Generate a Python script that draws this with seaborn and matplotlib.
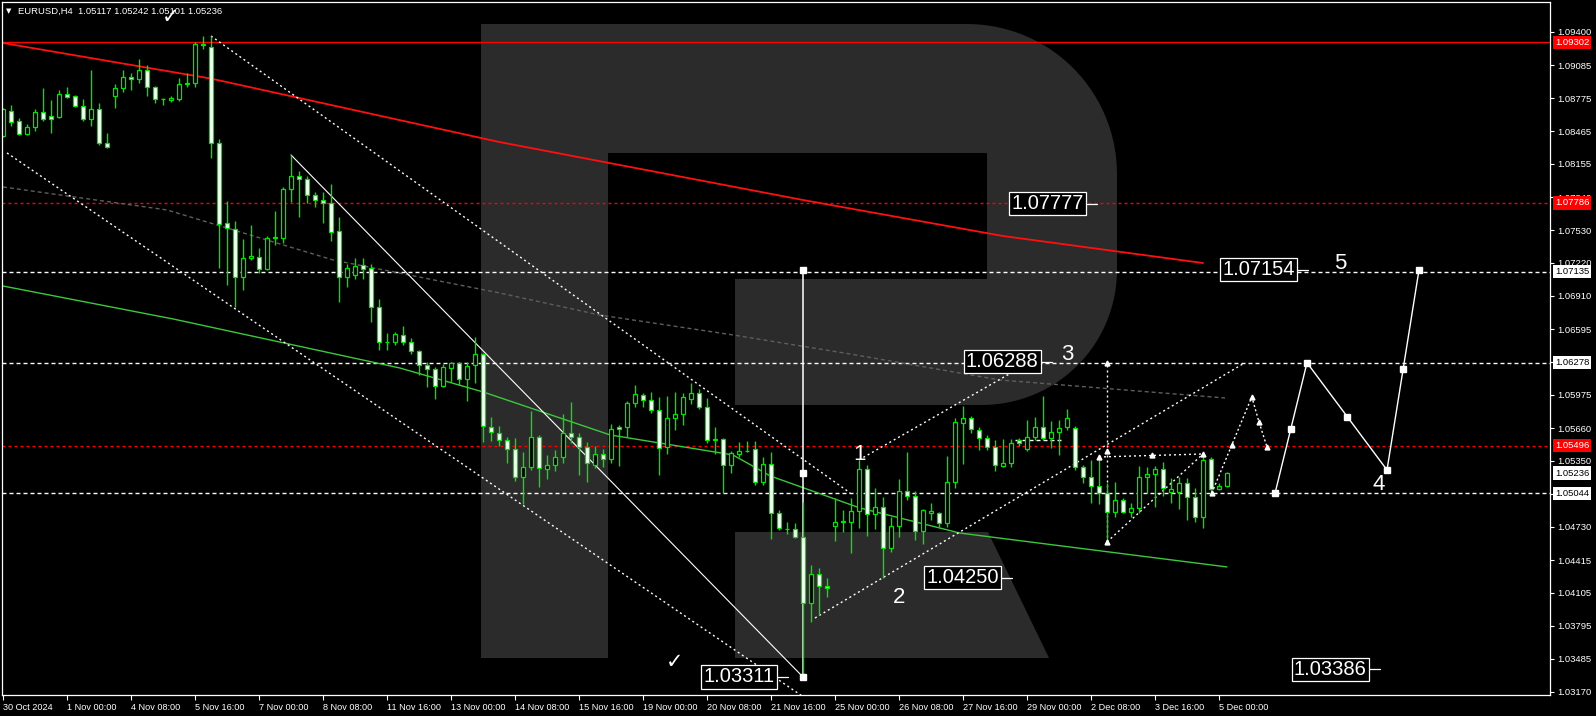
import numpy as np
import pandas as pd
import matplotlib
matplotlib.use("Agg")
import matplotlib.pyplot as plt
import matplotlib.transforms as mtransforms
from matplotlib.patches import Polygon
import seaborn as sns

# ---------------- data ----------------
symbol = "EURUSD,H4"
header_ohlc = ["1.05117", "1.05242", "1.05101", "1.05236"]

opens = [1.08418,1.08654,1.08560,1.08437,1.08503,1.08645,1.08607,1.08598,1.08815,1.08796,
         1.08702,1.08579,1.08673,1.08352,1.08796,1.08871,1.08975,1.08956,1.09041,1.08881,
         1.08768,1.08758,1.08768,1.08909,1.08918,1.09287,1.09258,1.08352,1.07597,1.07540,
         1.07087,1.07267,1.07276,1.07163,1.07455,1.07455,1.07918,1.08041,1.08012,1.07862,
         1.07814,1.07786,1.07521,1.07087,1.07106,1.07201,1.07172,1.06804,1.06474,1.06474,
         1.06540,1.06474,1.06388,1.06256,1.06219,1.06058,1.06228,1.06275,1.06124,1.06256,
         1.06360,1.05671,1.05615,1.05548,1.05463,1.05199,1.05294,1.05577,1.05275,1.05312,
         1.05388,1.05615,1.05577,1.05482,1.05312,1.05416,1.05369,1.05671,1.05671,1.05898,
         1.05973,1.05926,1.05832,1.05482,1.05756,1.05794,1.05936,1.05992,1.05860,1.05548,
         1.05558,1.05312,1.05416,1.05445,1.05463,1.05152,1.05322,1.04859,1.04708,1.04708,
         1.04633,1.04010,1.04283,1.04170,1.04737,1.04775,1.04775,1.04878,1.05275,1.04850,
         1.04916,1.04529,1.04737,1.05067,1.05020,1.04689,1.04859,1.04859,1.04765,1.05152,
         1.05709,1.05756,1.05643,1.05567,1.05482,1.05303,1.05331,1.05548,1.05463,1.05577,
         1.05671,1.05567,1.05624,1.05671,1.05662,1.05294,1.05199,1.05114,1.05048,1.04869,
         1.04982,1.04869,1.04906,1.05199,1.05227,1.05275,1.05057,1.05057,1.05143,1.05010,
         1.04822,1.05369,1.05086,1.05117]
highs = [1.08683,1.08711,1.08588,1.08532,1.08673,1.08871,1.08758,1.08852,1.08881,1.08805,
         1.08768,1.09041,1.08730,1.08447,1.08909,1.09041,1.09013,1.09145,1.09088,1.08890,
         1.08777,1.08796,1.08966,1.09013,1.09302,1.09362,1.09362,1.08390,1.07805,1.07616,
         1.07446,1.07578,1.07361,1.07474,1.07710,1.07937,1.08239,1.08088,1.08041,1.07890,
         1.07890,1.07965,1.07654,1.07210,1.07267,1.07267,1.07210,1.06879,1.06559,1.06568,
         1.06627,1.06511,1.06398,1.06285,1.06237,1.06266,1.06285,1.06285,1.06285,1.06521,
         1.06370,1.05767,1.05681,1.05577,1.05567,1.05435,1.05822,1.05596,1.05407,1.05454,
         1.05794,1.05907,1.05615,1.05530,1.05492,1.05463,1.05700,1.05690,1.05917,1.06068,
         1.05992,1.06002,1.05955,1.05964,1.06002,1.05992,1.06087,1.06030,1.05945,1.05671,
         1.05567,1.05445,1.05530,1.05539,1.05539,1.05388,1.05435,1.04888,1.04774,1.04765,
         1.04963,1.04368,1.04340,1.04246,1.05001,1.04888,1.05001,1.05360,1.05312,1.05095,
         1.05010,1.04822,1.05180,1.05435,1.05067,1.04897,1.04954,1.04869,1.05397,1.05756,
         1.05869,1.05775,1.05671,1.05596,1.05548,1.05558,1.05558,1.05567,1.05737,1.05765,
         1.05964,1.05728,1.05737,1.05841,1.05681,1.05312,1.05360,1.05388,1.05143,1.05152,
         1.05001,1.04954,1.05303,1.05294,1.05303,1.05341,1.05190,1.05199,1.05190,1.05095,
         1.05416,1.05388,1.05143,1.05242]
lows = [1.08409,1.08513,1.08428,1.08428,1.08466,1.08560,1.08447,1.08588,1.08777,1.08692,
        1.08560,1.08513,1.08333,1.08305,1.08683,1.08834,1.08852,1.08918,1.08796,1.08730,
        1.08711,1.08739,1.08749,1.08881,1.08881,1.09239,1.08211,1.07172,1.07012,1.06804,
        1.06964,1.07248,1.07125,1.07154,1.07389,1.07408,1.07795,1.07654,1.07786,1.07748,
        1.07597,1.07427,1.06851,1.06993,1.07068,1.07068,1.06662,1.06398,1.06398,1.06445,
        1.06445,1.06360,1.06162,1.06049,1.05936,1.06049,1.06096,1.06068,1.05917,1.06087,
        1.05530,1.05539,1.05492,1.05331,1.05161,1.04944,1.05265,1.05105,1.05180,1.05256,
        1.05331,1.05520,1.05218,1.05152,1.05284,1.05294,1.05331,1.05303,1.05577,1.05860,
        1.05860,1.05803,1.05218,1.05416,1.05643,1.05690,1.05888,1.05841,1.05520,1.05416,
        1.05048,1.05237,1.05388,1.05435,1.05124,1.05124,1.04614,1.04699,1.04661,1.04623,
        1.03311,1.03830,1.03896,1.04066,1.04595,1.04680,1.04482,1.04718,1.04642,1.04708,
        1.04246,1.04491,1.04633,1.04982,1.04604,1.04567,1.04793,1.04727,1.04727,1.05095,
        1.05322,1.05614,1.05454,1.05454,1.05256,1.05294,1.05294,1.05492,1.05445,1.05548,
        1.05548,1.05473,1.05407,1.05643,1.05265,1.05143,1.04954,1.04944,1.04586,1.04822,
        1.04859,1.04822,1.04859,1.05048,1.04916,1.05020,1.04954,1.04897,1.04793,1.04775,
        1.04718,1.05048,1.05076,1.05101]
closes = [1.08673,1.08550,1.08437,1.08503,1.08645,1.08579,1.08579,1.08815,1.08786,1.08702,
          1.08579,1.08673,1.08352,1.08314,1.08871,1.08975,1.08956,1.09041,1.08881,1.08768,
          1.08766,1.08777,1.08909,1.08918,1.09290,1.09280,1.08352,1.07588,1.07550,1.07087,
          1.07267,1.07286,1.07163,1.07455,1.07460,1.07918,1.08041,1.08012,1.07862,1.07814,
          1.07786,1.07512,1.07087,1.07172,1.07192,1.07163,1.06804,1.06474,1.06478,1.06549,
          1.06474,1.06388,1.06256,1.06219,1.06058,1.06237,1.06275,1.06124,1.06247,1.06360,
          1.05681,1.05624,1.05548,1.05463,1.05199,1.05294,1.05577,1.05284,1.05312,1.05388,
          1.05615,1.05577,1.05482,1.05331,1.05416,1.05369,1.05652,1.05652,1.05898,1.05983,
          1.05926,1.05832,1.05473,1.05756,1.05794,1.05955,1.05992,1.05860,1.05548,1.05558,
          1.05312,1.05426,1.05445,1.05440,1.05152,1.05322,1.04859,1.04718,1.04710,1.04633,
          1.04010,1.04283,1.04170,1.04151,1.04775,1.04780,1.04878,1.05275,1.04850,1.04916,
          1.04529,1.04737,1.05067,1.05020,1.04689,1.04888,1.04878,1.04765,1.05152,1.05718,
          1.05756,1.05652,1.05567,1.05482,1.05312,1.05331,1.05520,1.05520,1.05577,1.05671,
          1.05567,1.05624,1.05662,1.05756,1.05294,1.05199,1.05114,1.05048,1.04869,1.04982,
          1.04869,1.04906,1.05199,1.05227,1.05275,1.05095,1.05086,1.05143,1.05010,1.04822,
          1.05360,1.05086,1.05114,1.05236]

time_labels = ["30 Oct 2024", "1 Nov 00:00", "4 Nov 08:00", "5 Nov 16:00", "7 Nov 00:00",
               "8 Nov 08:00", "11 Nov 16:00", "13 Nov 00:00", "14 Nov 08:00", "15 Nov 16:00",
               "19 Nov 00:00", "20 Nov 08:00", "21 Nov 16:00", "25 Nov 00:00", "26 Nov 08:00",
               "27 Nov 16:00", "29 Nov 00:00", "2 Dec 08:00", "3 Dec 16:00", "5 Dec 00:00"]
time_label_bars = [0, 8, 16, 24, 32, 40, 48, 56, 64, 72, 80, 88, 96, 104, 112, 120, 128, 136, 144, 152]

price_ticks = [1.09400, 1.09085, 1.08775, 1.08465, 1.08155, 1.07840, 1.07530, 1.07220,
               1.06910, 1.06595, 1.06285, 1.05975, 1.05660, 1.05350, 1.05040, 1.04730,
               1.04415, 1.04105, 1.03795, 1.03485, 1.03170]

# moving averages, read at selected bars
ma_red_bars = [0, 26, 62, 100, 125, 150]
ma_red_vals = [1.09296, 1.08960, 1.08362, 1.07814, 1.07474, 1.07219]
ma_green_bars = [0, 21.25, 49.6, 60, 75.9, 91.25, 95.9, 107.1, 119.6, 153]
ma_green_vals = [1.07002, 1.06691, 1.06228, 1.06002, 1.05596, 1.05407, 1.05209, 1.04907, 1.04670, 1.04350]
ma_grey_bars = [0, 20.5, 41.25, 62.1, 74.6, 91.25, 105.9, 124.6, 152.75]
ma_grey_vals = [1.07937, 1.07720, 1.07248, 1.06936, 1.06728, 1.06540, 1.06360, 1.06115, 1.05945]

# horizontal levels
red_solid_level = 1.09302
red_dashed_levels = [1.07786, 1.05496]
white_dashed_levels = [1.07135, 1.06278, 1.05044]

# right-scale price tags (price, style)
price_tags = [(1.09302, "red"), (1.07786, "red"), (1.07135, "white"), (1.06278, "white"),
              (1.05496, "red"), (1.05236, "white"), (1.05044, "white")]

# trend lines: ((bar0, price0), (bar1, price1))
dotted_lines = [
    ((26, 1.09362), (105.9, 1.05048)),    # big channel upper
    ((0.5, 1.08258), (100.5, 1.03100)),   # big channel lower
    ((107, 1.05360), (128.25, 1.06278)),  # wave channel upper
    ((101.5, 1.03868), (155.25, 1.06278)),# wave channel lower
    ((138, 1.04586), (138, 1.06278)),     # vertical
    ((138, 1.04586), (150, 1.05416)),     # triangle rising side
    ((137, 1.05388), (150, 1.05416)),     # triangle flat side
]
short_dashed = ((126.5, 1.05548), (132.4, 1.05548))
solid_trend = ((36, 1.08239), (100, 1.03311))
vertical_measure_bar = 100
vertical_measure_prices = [1.07154, 1.05233, 1.03311]

tri_marker_bars = [138, 138, 138, 137, 143.6, 150]
tri_marker_prices = [1.06278, 1.05445, 1.04586, 1.05388, 1.05407, 1.05416]

small_fc_bars = [151.1, 153.6, 156.1, 157, 158]
small_fc_prices = [1.05048, 1.05501, 1.05955, 1.05718, 1.05482]

forecast_bars = [159, 163, 173, 177]
forecast_prices = [1.05044, 1.06278, 1.05265, 1.07154]
forecast_marker_bars = [159, 161, 163, 168, 173, 175, 177]
forecast_marker_prices = [1.05044, 1.05652, 1.06278, 1.05766, 1.05265, 1.06219, 1.07154]

level_boxes = [("1.07777", 136.75, 1.07777), ("1.07154", 163.1, 1.07154),
               ("1.06288", 131.1, 1.06288), ("1.04250", 126.1, 1.04250),
               ("1.03311", 98.1, 1.03311), ("1.03386", 172.1, 1.03386)]
wave_labels = [("1", 107.1, 1.05407), ("2", 112, 1.04066), ("3", 133, 1.06351),
               ("4", 172, 1.05124), ("5", 167.1, 1.07219)]
check_marks = [(20.9, 1.09540), (84, 1.03453)]

# ---------------- style ----------------
sns.set_style("dark", {"axes.facecolor": "black", "figure.facecolor": "black"})
plt.rcParams["font.family"] = ["Liberation Sans", "DejaVu Sans"]
plt.rcParams["lines.scale_dashes"] = False

W, H = 1596, 716
fig = plt.figure(figsize=(W / 100, H / 100), dpi=100, facecolor="black")
ax = fig.add_axes([2 / W, 21 / H, 1548 / W, 693 / H])
ax.set_facecolor("black")
ax.set_xlim(-0.125, 193.375)
ax.set_ylim(1.03141, 1.09683)
ax.grid(False)
for s in ax.spines.values():
    s.set_color("white")
    s.set_linewidth(0.9)

# ---------------- watermark "R" ----------------
def fp(pts):
    return [(x / W, 1 - y / H) for x, y in pts]

t = np.linspace(0, np.pi / 2, 30)
bowl = [(481, 24), (967, 24)]
bowl += [(967 + 150 * np.sin(a), 174 - 150 * np.cos(a)) for a in t]
bowl += [(1117, 270)]
bowl += [(982 + 135 * np.cos(a), 270 + 135 * np.sin(a)) for a in t]
bowl += [(735, 405), (735, 279), (987, 279), (987, 153), (608, 153), (608, 658), (481, 658)]
leg = [(735, 532), (988, 532), (1049, 658), (735, 658)]
grey = "#2b2b2b"
for shape in (bowl, leg):
    ax.add_patch(Polygon(fp(shape), closed=True, transform=fig.transFigure,
                         facecolor=grey, edgecolor="none", zorder=0.1))

# ---------------- levels and indicators ----------------
px = 0.72
ax.axhline(red_solid_level, color="#ff0000", lw=1.0, zorder=1)
for lv in red_dashed_levels:
    ax.axhline(lv, color="#ff0000", lw=1.0, linestyle=(0, (3 * px, 3 * px)), zorder=1)
for lv in white_dashed_levels:
    ax.axhline(lv, color="white", lw=1.0, linestyle=(0, (4 * px, 3 * px)), zorder=1)

ma_df = pd.DataFrame({"bar": ma_red_bars, "val": ma_red_vals})
sns.lineplot(data=ma_df, x="bar", y="val", ax=ax, color="#ff1010", lw=1.3,
             estimator=None, sort=False, zorder=1.2)
ma_df = pd.DataFrame({"bar": ma_green_bars, "val": ma_green_vals})
sns.lineplot(data=ma_df, x="bar", y="val", ax=ax, color="#3cc83c", lw=1.0,
             estimator=None, sort=False, zorder=1.2)
ax.plot(ma_grey_bars, ma_grey_vals, color="#5e5e5e", lw=1.0,
        linestyle=(0, (4 * px, 3 * px)), zorder=1.2)

for (b0, p0), (b1, p1) in dotted_lines:
    ax.plot([b0, b1], [p0, p1], color="white", lw=1.0,
            linestyle=(0, (2 * px, 3 * px)), zorder=1.5)
ax.plot([short_dashed[0][0], short_dashed[1][0]], [short_dashed[0][1], short_dashed[1][1]],
        color="white", lw=1.0, linestyle=(0, (4 * px, 3 * px)), zorder=1.5)
ax.plot([solid_trend[0][0], solid_trend[1][0]], [solid_trend[0][1], solid_trend[1][1]],
        color="white", lw=0.8, zorder=1.5)
ax.plot([vertical_measure_bar] * 2, [vertical_measure_prices[0], vertical_measure_prices[-1]],
        color="white", lw=1.1, zorder=1.5)
ax.plot([vertical_measure_bar] * 3, vertical_measure_prices, linestyle="none", marker="s",
        ms=4, color="white", zorder=4)

ax.plot(tri_marker_bars, tri_marker_prices, linestyle="none", marker="^", ms=3.5,
        color="white", zorder=4)

# ---------------- candles ----------------
o = np.array(opens); h = np.array(highs); l = np.array(lows); c = np.array(closes)
idx = np.arange(len(o))
green = "#00e600"
ax.vlines(idx, l, h, color=green, lw=1.0, zorder=2)
bull = c >= o
bw = 0.55
ax.bar(idx[bull], np.abs(c - o)[bull], bottom=np.minimum(o, c)[bull], width=bw,
       facecolor="black", edgecolor=green, linewidth=0.9, zorder=2.5)
ax.bar(idx[~bull], np.abs(c - o)[~bull], bottom=np.minimum(o, c)[~bull], width=bw,
       facecolor="white", edgecolor=green, linewidth=0.9, zorder=2.5)

# ---------------- forecasts ----------------
sf = pd.DataFrame({"bar": small_fc_bars, "price": small_fc_prices})
ax.plot(sf["bar"], sf["price"], color="white", lw=1.0, linestyle=(0, (2 * px, 2.5 * px)), zorder=3)
ax.plot(sf["bar"], sf["price"], linestyle="none", marker="^", ms=3.5, color="white", zorder=4)

fc = pd.DataFrame({"bar": forecast_bars, "price": forecast_prices})
sns.lineplot(data=fc, x="bar", y="price", ax=ax, color="white", lw=1.0,
             estimator=None, sort=False, zorder=3)
ax.plot(forecast_marker_bars, forecast_marker_prices, linestyle="none", marker="s", ms=4.2,
        color="white", zorder=4)

# ---------------- level boxes and wave labels ----------------
stub = 1.3
for txt, bar, price in level_boxes:
    ax.plot([bar - stub, bar], [price, price], color="white", lw=0.9, zorder=4)
    ax.text(bar - stub - 0.35, price, txt, ha="right", va="center", fontsize=14.5,
            color="white", zorder=5,
            bbox=dict(boxstyle="square,pad=0.1", fc="black", ec="white", lw=0.9))

for txt, bar, price in wave_labels:
    ax.text(bar, price, txt, ha="center", va="center", fontsize=16, color="white", zorder=5)

for bar, price in check_marks:
    ax.text(bar, price, "\u2713", ha="center", va="center", fontsize=15, color="white",
            family=["DejaVu Sans"], fontweight="bold", zorder=5)

# ---------------- axes ticks ----------------
ax.yaxis.tick_right()
ax.set_yticks(price_ticks)
ax.set_yticklabels([f"{v:.5f}" for v in price_ticks])
ax.tick_params(axis="y", colors="white", labelsize=6.8, length=3, width=0.8, pad=2,
               direction="out", right=True, left=False)
ax.set_xticks(time_label_bars)
ax.set_xticklabels(time_labels)
ax.tick_params(axis="x", colors="white", labelsize=6.6, length=3.5, width=0.8, pad=2,
               direction="out", bottom=True)
for lab in ax.get_xticklabels():
    lab.set_ha("left")
ax.set_xlabel("")
ax.set_ylabel("")

trans = mtransforms.blended_transform_factory(ax.transAxes, ax.transData)
for price, style in price_tags:
    fc_ = "#ff0000" if style == "red" else "white"
    tc_ = "white" if style == "red" else "black"
    ax.text(1 + 5 / 1548, price, f"{price:.5f}", transform=trans, ha="left", va="center",
            fontsize=6.8, color=tc_, zorder=6, clip_on=False,
            bbox=dict(boxstyle="square,pad=0.22", fc=fc_, ec="none"))

# ---------------- header ----------------
fig.text(6 / W, 1 - 11 / H, "\u25BC", fontsize=5, color="white", family=["DejaVu Sans"],
         va="center", ha="left")
fig.text(18 / W, 1 - 11 / H, symbol + "  " + " ".join(header_ohlc), fontsize=6.8,
         color="white", va="center", ha="left")

fig.savefig("out.png", dpi=100, facecolor="black")
